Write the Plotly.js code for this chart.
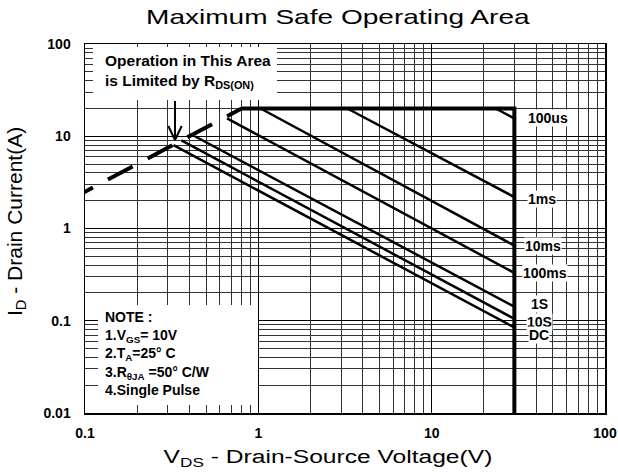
<!DOCTYPE html>
<html>
<head>
<meta charset="utf-8">
<script src="https://cdn.plot.ly/plotly-3.0.1.min.js"></script>
<style>html,body{margin:0;padding:0;background:#fff;}#chart{width:618px;height:472px;}</style>
</head>
<body>
<div id="chart"></div>
<script>
// ---- data ----
const xTickVals = [0.1, 1, 10, 100];
const xTickText = ['0.1', '1', '10', '100'];
const yTickVals = [0.01, 0.1, 1, 10, 100];
const yTickText = ['0.01', '0.1', '1', '10', '100'];

// RDS(on) limit line (dashed)
const rdsV = [0.08, 0.8];
const rdsI = [2.0, 20];

// package current limit + BVdss limit (thick)
const limitV = [0.8, 30, 30];
const limitI = [20, 20, 0.01];

// pulse curves
const curveNames = ['100us', '1ms', '10ms', '100ms', '1S', '10S', 'DC'];
const startV = [23.4, 3.26, 1.03, 0.66, 0.43, 0.36, 0.324];
const startI = [20, 20, 20, 15.6, 10.0, 9.0, 8.0];
const endV   = [30, 30, 30, 30, 30, 30, 30];
const endI   = [15.6, 2.19, 0.653, 0.33, 0.142, 0.105, 0.0845];

// minor grid positions (2..9 in every decade)
const minorX = [], minorY = [];
[0.1, 1, 10].forEach(d => { for (let k = 2; k <= 9; k++) minorX.push(d * k); });
[0.01, 0.1, 1, 10].forEach(d => { for (let k = 2; k <= 9; k++) minorY.push(d * k); });

// ---- geometry helpers (pixel -> paper) ----
const L = 85, R = 605, T = 44, B = 413;
const px = v => (v - L) / (R - L);
const py = v => (B - v) / (B - T);

const FONT = 'Liberation Sans, Arial, sans-serif';

const traces = [];
traces.push({
  x: rdsV, y: rdsI, mode: 'lines', type: 'scatter',
  line: {color: '#000', width: 4, dash: '28px,17px'}, hoverinfo: 'skip'
});
traces.push({
  x: limitV, y: limitI, mode: 'lines', type: 'scatter',
  line: {color: '#000', width: 4}, hoverinfo: 'skip'
});
curveNames.forEach((n, i) => {
  traces.push({
    name: n, x: [startV[i], endV[i]], y: [startI[i], endI[i]],
    mode: 'lines', type: 'scatter', line: {color: '#000', width: 2.5}
  });
});

// white panels that mask the grid behind the text blocks
const whiteBox = (x0, x1, y0, y1) => ({
  text: ' ', xref: 'paper', yref: 'paper', x: px((x0 + x1) / 2), y: py((y0 + y1) / 2),
  xanchor: 'center', yanchor: 'middle', showarrow: false,
  width: x1 - x0, height: y1 - y0, borderpad: 0, borderwidth: 0, bgcolor: '#fff',
  font: {size: 2, color: '#fff'}
});

const annotations = [whiteBox(93, 277, 47, 100), whiteBox(98, 258, 305, 405)];

const labelPos = [[548,118],[541.7,199],[542.7,245.7],[545,272.7],[539.3,304],[539.3,321.7],[539.3,335]];
curveNames.forEach((n, i) => annotations.push({
  text: n, xref: 'paper', yref: 'paper', x: px(labelPos[i][0]), y: py(labelPos[i][1]),
  xanchor: 'center', yanchor: 'middle', showarrow: false,
  font: {family: FONT, size: 14, color: '#000', weight: 'bold'},
  bgcolor: '#fff', borderpad: 0
}));

annotations.push({
  text: 'Operation in This Area<br>is Limited by R<sub>DS(ON)</sub>',
  xref: 'paper', yref: 'paper', x: px(103), y: py(72), xanchor: 'left', yanchor: 'middle',
  align: 'left', showarrow: false, font: {family: FONT, size: 15.5, color: '#000', weight: 'bold'}
});
annotations.push({
  text: 'NOTE :<br>1.V<sub>GS</sub>= 10V<br>2.T<sub>A</sub>=25° C<br>3.R<sub>θJA</sub> =50° C/W<br>4.Single Pulse',
  xref: 'paper', yref: 'paper', x: px(103), y: py(353), xanchor: 'left', yanchor: 'middle',
  align: 'left', showarrow: false, font: {family: FONT, size: 14, color: '#000', weight: 'bold'}
});
// axis titles
annotations.push({
  text: 'V<sub>DS</sub> - Drain-Source Voltage(V)',
  xref: 'paper', yref: 'paper', x: px(328), y: py(458), xanchor: 'center', yanchor: 'middle',
  showarrow: false, font: {family: FONT, size: 19, color: '#000'}
});
annotations.push({
  text: 'I<sub>D</sub> - Drain Current(A)',
  xref: 'paper', yref: 'paper', x: px(16), y: py(222), xanchor: 'center', yanchor: 'middle',
  textangle: -90, showarrow: false, font: {family: FONT, size: 21, color: '#000'}
});

const shapes = [
  // arrow
  {type: 'line', xref: 'paper', yref: 'paper', x0: px(175), x1: px(175), y0: py(101), y1: py(139),
   line: {color: '#000', width: 2}, layer: 'above'},
  {type: 'line', xref: 'paper', yref: 'paper', x0: px(168.3), x1: px(175), y0: py(126), y1: py(140),
   line: {color: '#000', width: 2}, layer: 'above'},
  {type: 'line', xref: 'paper', yref: 'paper', x0: px(181.7), x1: px(175), y0: py(126), y1: py(140),
   line: {color: '#000', width: 2}, layer: 'above'}
];

const layout = {
  width: 618, height: 472,
  margin: {l: L, r: 618 - R, t: T, b: 472 - B, pad: 0},
  paper_bgcolor: '#fff', plot_bgcolor: '#fff',
  showlegend: false,
  font: {family: FONT, color: '#000'},
  title: {text: 'Maximum Safe Operating Area', font: {family: FONT, size: 20, color: '#000'},
          xref: 'paper', x: px(338), xanchor: 'center', yref: 'container', y: 1 - 17 / 472, yanchor: 'middle'},
  xaxis: {
    type: 'log', range: [-1, 2], tickmode: 'array', tickvals: xTickVals, ticktext: xTickText,
    tickfont: {family: FONT, size: 14, weight: 'bold', color: '#000'},
    ticks: 'outside', ticklen: 7, tickcolor: 'rgba(0,0,0,0)',
    showgrid: true, gridcolor: '#000', gridwidth: 1,
    minor: {tickmode: 'array', tickvals: minorX, showgrid: true, gridcolor: '#333', gridwidth: 1, ticks: ''},
    showline: true, linecolor: '#000', linewidth: 1.5, mirror: true, zeroline: false
  },
  yaxis: {
    type: 'log', range: [-2, 2], tickmode: 'array', tickvals: yTickVals, ticktext: yTickText,
    tickfont: {family: FONT, size: 14, weight: 'bold', color: '#000'},
    ticks: 'outside', ticklen: 10, tickcolor: 'rgba(0,0,0,0)',
    showgrid: true, gridcolor: '#000', gridwidth: 1,
    minor: {tickmode: 'array', tickvals: minorY, showgrid: true, gridcolor: '#333', gridwidth: 1, ticks: ''},
    showline: true, linecolor: '#000', linewidth: 1.5, mirror: true, zeroline: false
  },
  annotations: annotations,
  shapes: shapes
};

// the reference's title texts are set in a horizontally widened face
function widen(el, targetWidth) {
  if (!el) return;
  const bb = el.getBBox();
  if (!bb.width) return;
  const f = targetWidth / bb.width;
  const cx = bb.x + bb.width / 2;
  const prev = el.getAttribute('transform') || '';
  el.setAttribute('transform', prev + ` translate(${cx},0) scale(${f},1) translate(${-cx},0)`);
}

Plotly.newPlot('chart', traces, layout, {staticPlot: true, displayModeBar: false}).then(gd => {
  widen(gd.querySelector('.gtitle'), 385);
  gd.querySelectorAll('.annotation-text').forEach(el => {
    if (el.textContent.indexOf('Drain-Source') >= 0) widen(el, 329);
  });
});
</script>
</body>
</html>
